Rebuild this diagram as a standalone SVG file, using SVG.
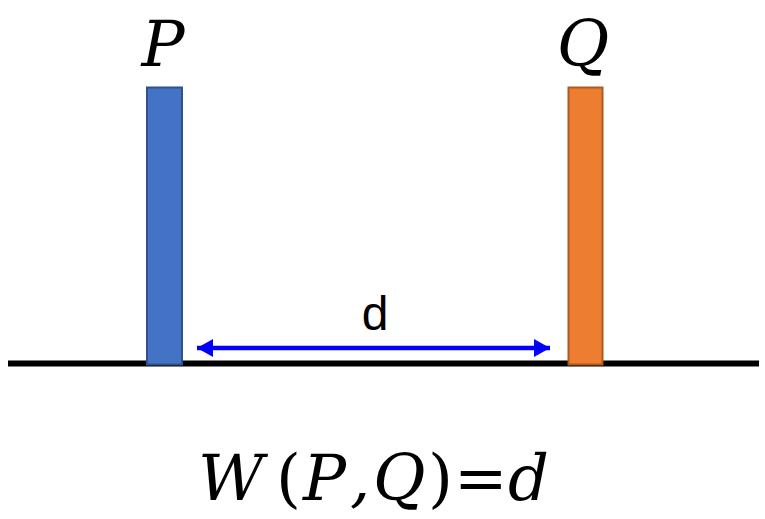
<svg xmlns="http://www.w3.org/2000/svg" width="765" height="519" viewBox="0 0 765 519">
<style>
.math{font-family:"DejaVu Serif","Liberation Serif",serif;font-style:italic;font-size:64px;fill:#000}
.up{font-style:normal}
.lbl{font-family:"Liberation Sans",Arial,sans-serif;font-size:48px;fill:#000}
</style>
<defs>
<marker id="ah" viewBox="0 0 16 18" refX="16" refY="9" markerWidth="16" markerHeight="18" markerUnits="userSpaceOnUse" orient="auto-start-reverse">
<path d="M0,0 L16,9 L0,18 Z" fill="#0000FF"/>
</marker>
</defs>
<rect width="765" height="519" fill="#fff"/>
<g id="baseline"><line x1="8" y1="363.5" x2="759" y2="363.5" stroke="#000" stroke-width="6"/></g>
<g id="P">
<rect x="147" y="87.5" width="35" height="277" fill="#4472C4" stroke="#2F528F" stroke-width="2"/>
<text class="math" x="163" y="66" text-anchor="middle">P</text>
</g>
<g id="Q">
<rect x="568.5" y="87.5" width="34" height="277" fill="#ED7D31" stroke="#AE5A21" stroke-width="2"/>
<text class="math" x="583" y="66" text-anchor="middle">Q</text>
</g>
<g id="connectors">
<line x1="197" y1="348" x2="550" y2="348" stroke="#0000FF" stroke-width="4.5" marker-start="url(#ah)" marker-end="url(#ah)"/>
<text class="lbl" x="375" y="330" text-anchor="middle">d</text>
</g>
<g id="formula">
<text class="math" y="500"><tspan x="198">W</tspan><tspan class="up" x="276">(</tspan><tspan x="303">P</tspan><tspan x="350">,</tspan><tspan x="373">Q</tspan><tspan class="up" x="428">)</tspan><tspan class="up" x="454">=</tspan><tspan x="508">d</tspan></text>
</g>
</svg>
